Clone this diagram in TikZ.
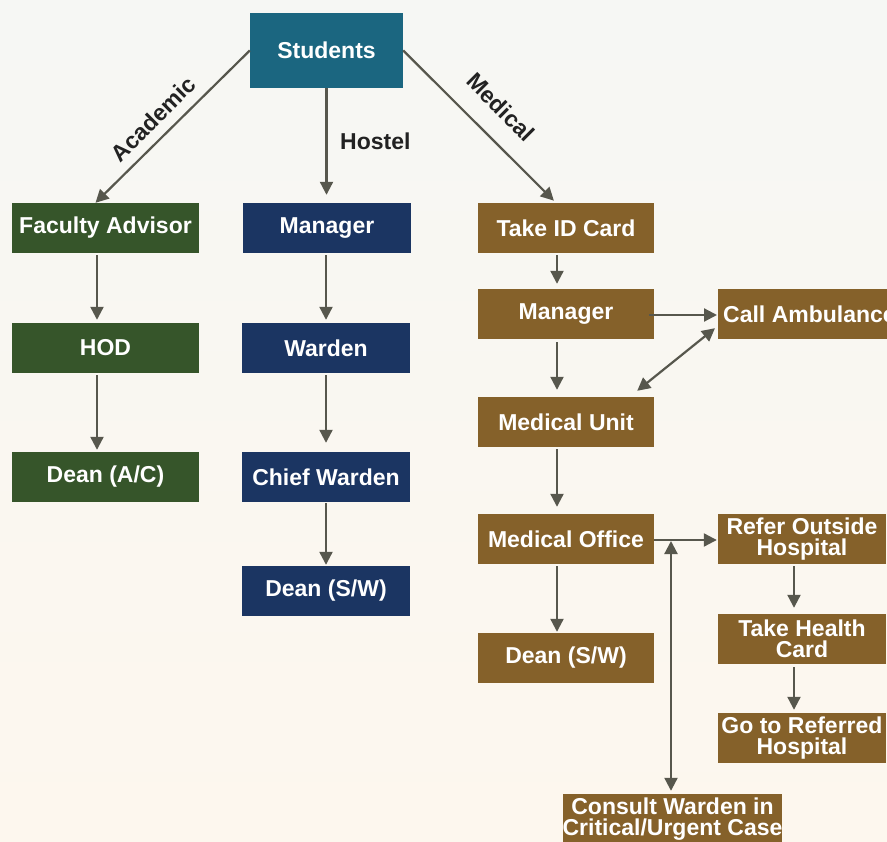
\documentclass[tikz,border=0pt]{standalone}
\usepackage{fontspec}
\setmainfont{Liberation Sans}
\usetikzlibrary{arrows.meta}
\definecolor{bgtop}{RGB}{246,247,244}
\definecolor{bgbot}{RGB}{253,247,238}
\definecolor{stucol}{RGB}{27,102,128}
\definecolor{acacol}{RGB}{54,85,42}
\definecolor{hoscol}{RGB}{27,53,98}
\definecolor{medcol}{RGB}{133,97,42}
\definecolor{arrcol}{RGB}{87,87,77}
\definecolor{lblcol}{RGB}{34,34,34}
\tikzset{
  box/.style={rectangle, inner sep=0pt, minimum height=50pt, text=white, align=center,
    font=\bfseries\fontsize{23}{21}\selectfont},
  stubox/.style={box, fill=stucol, minimum width=153pt, minimum height=75pt},
  acabox/.style={box, fill=acacol, minimum width=187pt},
  hosbox/.style={box, fill=hoscol, minimum width=168pt},
  medbox/.style={box, fill=medcol, minimum width=176pt},
  sidebox/.style={box, fill=medcol, minimum width=168pt},
  tip/.tip={Triangle[length=13pt,width=13pt]},
  ar/.style={draw=arrcol, line width=2.2pt, -tip},
  dar/.style={draw=arrcol, line width=2.2pt, tip-tip},
  lbl/.style={text=lblcol, inner sep=0pt, font=\bfseries\fontsize{23}{21}\selectfont}
}
\begin{document}
\begin{tikzpicture}[x=1pt,y=-1pt]
\useasboundingbox (0,0) rectangle (887,842);
\shade[top color=bgtop, bottom color=bgbot] (0,0) rectangle (887,842);
\begin{scope}
\clip (0,0) rectangle (887,842);
% nodes
\node[stubox] (stu) at (326.5,50.5) {Students};
\node[acabox] (fa) at (105.5,228) {Faculty Advisor};
\node[acabox] (hod) at (105.5,348) {HOD};
\node[acabox] (dac) at (105.5,477) {Dean (A/C)};
\node[hosbox] (mh) at (327,228) {Manager};
\node[hosbox] (wa) at (326,348) {Warden};
\node[hosbox] (cw) at (326,477) {Chief Warden};
\node[hosbox] (dsw) at (326,591) {Dean (S/W)};
\node[medbox] (tid) at (566,228) {Take ID Card};
\node[medbox] (mm) at (566,314) {Manager};
\node[medbox] (mu) at (566,422) {Medical Unit};
\node[medbox] (mo) at (566,539) {Medical Office};
\node[medbox] (dmed) at (566,658) {Dean (S/W)};
\node[box, fill=medcol, anchor=west, inner xsep=5pt] (ca) at (718,314) {Call Ambulance};
\node[sidebox] (ro) at (802,539) {Refer Outside\\Hospital};
\node[sidebox] (thc) at (802,639) {Take Health\\Card};
\node[sidebox] (go) at (802,738) {Go to Referred\\Hospital};
\node[box, fill=medcol, minimum width=215pt, minimum height=50pt] (cons) at (672.5,819) {Consult Warden in\\Critical/Urgent Case};
% labels
\node[lbl, rotate=45] (lac) at (153,119) {Academic};
\node[lbl, rotate=-45] (lme) at (501,107) {Medical};
\node[lbl, anchor=west] (lho) at (340,141) {Hostel};
% edges from Students
\draw[ar] (stu.west) -- ([xshift=-10pt]fa.north);
\draw[ar, shorten >=3pt] (stu.east) -- ([xshift=-10pt]tid.north);
\draw[ar, shorten >=8pt] (stu.south) -- (stu.south |- mh.north);
% academic
\draw[ar, shorten <=2pt, shorten >=3pt] ([xshift=-8.5pt]fa.south) -- ([xshift=-8.5pt]hod.north);
\draw[ar, shorten <=2pt, shorten >=2pt] ([xshift=-8.5pt]hod.south) -- ([xshift=-8.5pt]dac.north);
% hostel
\draw[ar, shorten <=2pt, shorten >=3pt] ([xshift=-1pt]mh.south) -- (wa.north);
\draw[ar, shorten <=2pt, shorten >=9pt] (wa.south) -- (cw.north);
\draw[ar, shorten <=1pt, shorten >=1pt] (cw.south) -- (dsw.north);
% medical
\draw[ar, shorten <=2pt, shorten >=5pt] ([xshift=-9pt]tid.south) -- ([xshift=-9pt]mm.north);
\draw[ar, shorten <=3pt, shorten >=7pt] ([xshift=-9pt]mm.south) -- ([xshift=-9pt]mu.north);
\draw[ar, shorten <=2pt, shorten >=7pt] ([xshift=-9pt]mu.south) -- ([xshift=-9pt]mo.north);
\draw[ar, shorten <=2pt, shorten >=1pt] ([xshift=-9pt]mo.south) -- ([xshift=-9pt]dmed.north);
\draw[ar, shorten >=1pt] ([xshift=-5pt,yshift=-1pt]mm.east) -- ([yshift=-1pt]ca.west);
\draw[dar] ([shift={(-3,-11)}]ca.south west) -- ([shift={(-17,-6)}]mu.north east);
\draw[ar, shorten >=1pt] ([yshift=-1pt]mo.east) -- ([yshift=-1pt]ro.west);
\coordinate (j) at (671,541);
\draw[dar, shorten <=3pt] ([xshift=-1.5pt]cons.north) -- (j);
\draw[ar, shorten <=2pt, shorten >=6pt] ([xshift=-8pt]ro.south) -- ([xshift=-8pt]thc.north);
\draw[ar, shorten <=3pt, shorten >=3pt] ([xshift=-8pt]thc.south) -- ([xshift=-8pt]go.north);
\end{scope}
\end{tikzpicture}
\end{document}
